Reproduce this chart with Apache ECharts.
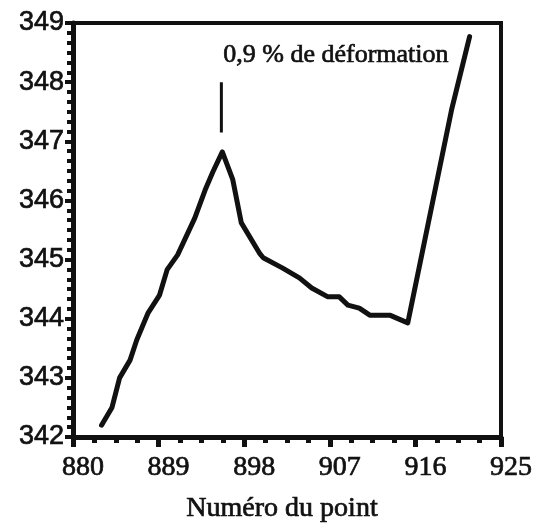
<!DOCTYPE html>
<html>
<head>
<meta charset="utf-8">
<script src="https://cdn.jsdelivr.net/npm/echarts@6/dist/echarts.min.js"></script>
<style>html,body{margin:0;padding:0;background:#fff;}#c{width:555px;height:529px;}</style>
</head>
<body>
<div id="c"></div>
<script>
// Data
var pointX = [883.0, 884.1, 884.9, 886.0, 886.7, 887.9, 889.1, 889.9, 891.0, 892.8, 893.9, 894.7, 895.7, 896.8, 897.7, 899.6, 900.0, 902.0, 903.8, 905.1, 906.8, 908.0, 908.9, 910.1, 911.2, 913.3, 915.2, 919.8, 921.7];
var pointY = [342.2, 342.5, 343.0, 343.3, 343.64, 344.1, 344.4, 344.83, 345.08, 345.7, 346.18, 346.48, 346.82, 346.35, 345.62, 345.11, 345.03, 344.86, 344.69, 344.52, 344.37, 344.37, 344.23, 344.18, 344.06, 344.06, 343.93, 347.53, 348.77];
var xTicks = [880, 889, 898, 907, 916, 925];
var yTicks = [342, 343, 344, 345, 346, 347, 348, 349];
var markerX = [895.6, 895.6];
var markerY = [347.15, 348.0];
var annotText = '0,9 % de déformation';
var annotPos = [895.8, 348.45];
var xName = 'Numéro du point';

var lineData = pointX.map(function (x, i) { return [x, pointY[i]]; });
var markerData = markerX.map(function (x, i) { return [x, markerY[i]]; });
var ink = '#111';
var heavy = { textBorderColor: ink, textBorderWidth: 0.7 };
var chart = echarts.init(document.getElementById('c'));
chart.setOption({
  animation: false,
  backgroundColor: '#fff',
  grid: { left: 73, right: 54, top: 23, bottom: 92, show: true, borderColor: ink, borderWidth: 4, backgroundColor: 'transparent' },
  xAxis: {
    type: 'value', min: xTicks[0], max: xTicks[xTicks.length - 1], interval: 9,
    name: xName, nameLocation: 'middle', nameGap: 58,
    nameTextStyle: Object.assign({ fontFamily: 'Liberation Serif', fontSize: 28, color: ink, padding: [0, 10, 0, 0] }, heavy),
    axisLine: { show: true, onZero: false, lineStyle: { color: ink, width: 5 } },
    axisTick: { show: true, length: 10, lineStyle: { color: ink, width: 5 } },
    minorTick: { show: true, splitNumber: 4, length: 6, lineStyle: { color: ink, width: 5 } },
    axisLabel: Object.assign({ margin: 17, padding: [0, 0, 0, 20], fontFamily: 'Liberation Serif', fontSize: 28, color: ink }, heavy),
    splitLine: { show: false }
  },
  yAxis: {
    type: 'value', min: yTicks[0], max: yTicks[yTicks.length - 1], interval: 1,
    axisLine: { show: true, onZero: false, lineStyle: { color: ink, width: 5 } },
    axisTick: { show: true, length: 8, lineStyle: { color: ink, width: 4 } },
    minorTick: { show: true, splitNumber: 6, length: 6, lineStyle: { color: ink, width: 4 } },
    axisLabel: Object.assign({ margin: 9, fontFamily: 'Liberation Sans', fontSize: 27, color: ink }, heavy),
    splitLine: { show: false }
  },
  series: [
    {
      type: 'line', data: lineData, showSymbol: false, symbol: 'none',
      lineStyle: { color: ink, width: 5, join: 'round', cap: 'round' }
    },
    {
      type: 'line', data: markerData, showSymbol: false, symbol: 'none',
      lineStyle: { color: ink, width: 3 }
    },
    {
      type: 'scatter', data: [annotPos], symbolSize: 0.01, silent: true,
      itemStyle: { color: ink, opacity: 1 },
      label: Object.assign({ show: true, position: 'right', distance: 0, formatter: annotText,
        fontFamily: 'Liberation Serif', fontSize: 26, color: ink, opacity: 1 }, heavy)
    }
  ]
});
</script>
</body>
</html>
